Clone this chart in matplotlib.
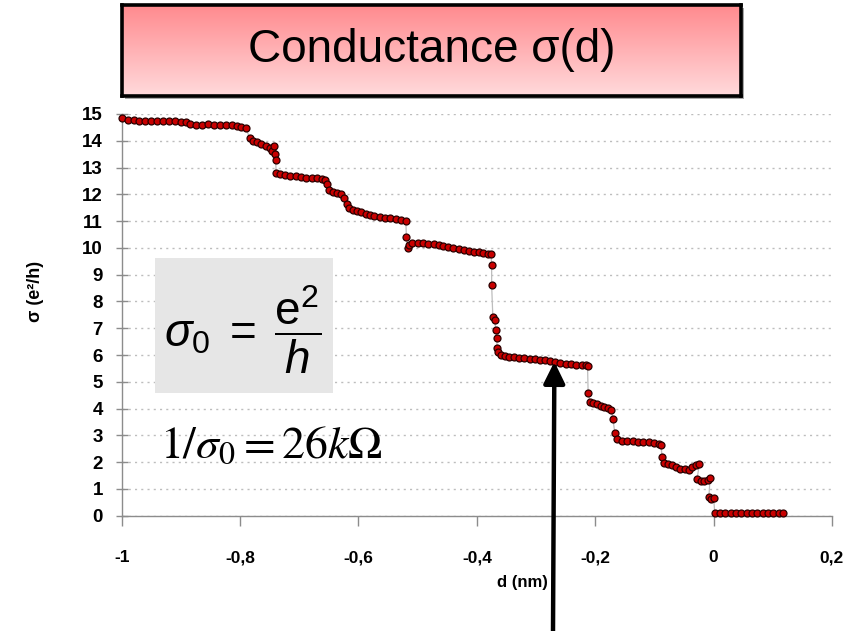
import numpy as np
import matplotlib
matplotlib.use("Agg")
import matplotlib.pyplot as plt
from matplotlib.colors import LinearSegmentedColormap
from matplotlib.patches import Rectangle

plt.rcParams['font.family'] = ['Liberation Sans', 'DejaVu Sans']
plt.rcParams['mathtext.fontset'] = 'custom'
plt.rcParams['mathtext.rm'] = 'Liberation Sans'
plt.rcParams['mathtext.it'] = 'Liberation Sans:italic'
plt.rcParams['mathtext.bf'] = 'Liberation Sans:bold'

# ---------------- data ----------------
d_nm = [
    -1.000, -0.990, -0.980, -0.970, -0.960, -0.950, -0.940, -0.930, -0.920, -0.910, -0.900, -0.892,
    -0.884, -0.874, -0.864, -0.854, -0.844, -0.834, -0.824, -0.814, -0.806, -0.798, -0.790,
    -0.784, -0.778, -0.771, -0.764, -0.757, -0.750, -0.746, -0.742, -0.741, -0.740, -0.739,
    -0.733, -0.724, -0.715, -0.706, -0.697, -0.688, -0.679, -0.670, -0.661, -0.656, -0.653,
    -0.650, -0.643, -0.636, -0.629,
    -0.625, -0.620, -0.616,
    -0.609, -0.602, -0.595, -0.588, -0.581,
    -0.573, -0.564, -0.555, -0.546, -0.537, -0.528, -0.520,
    -0.519, -0.517, -0.514,
    -0.509, -0.500, -0.491, -0.482, -0.473, -0.464, -0.457,
    -0.449, -0.440, -0.431, -0.422, -0.413, -0.405,
    -0.397, -0.389, -0.381, -0.376,
    -0.375, -0.375, -0.373, -0.370, -0.368, -0.366, -0.366, -0.365,
    -0.359, -0.352, -0.345, -0.338,
    -0.329, -0.320, -0.311, -0.302, -0.293, -0.285,
    -0.277, -0.268, -0.259, -0.250, -0.241, -0.232, -0.223, -0.216, -0.213,
    -0.212,
    -0.209, -0.203, -0.197,
    -0.191, -0.185, -0.179, -0.173,
    -0.170, -0.167,
    -0.163, -0.155, -0.146, -0.137, -0.128, -0.119, -0.110, -0.101, -0.093, -0.089,
    -0.087,
    -0.084, -0.077, -0.070,
    -0.063, -0.056, -0.049, -0.042,
    -0.036, -0.030, -0.024,
    -0.028, -0.022, -0.016, -0.010, -0.006,
    -0.008, -0.004, 0.000,
    0.002, 0.011, 0.020, 0.029, 0.038, 0.047, 0.056, 0.065, 0.074, 0.083, 0.092, 0.101, 0.110, 0.117,
]
sigma = [
    14.85, 14.78, 14.76, 14.75, 14.74, 14.74, 14.73, 14.73, 14.72, 14.72, 14.71, 14.70,
    14.62, 14.60, 14.60, 14.61, 14.60, 14.60, 14.59, 14.60, 14.56, 14.52, 14.48,
    14.10, 14.00, 13.95, 13.88, 13.82, 13.74, 13.60, 13.82, 13.50, 13.30, 12.80,
    12.76, 12.72, 12.70, 12.68, 12.64, 12.62, 12.61, 12.60, 12.58, 12.55, 12.40,
    12.15, 12.10, 12.05, 12.00,
    11.85, 11.65, 11.50,
    11.42, 11.38, 11.33, 11.28, 11.22,
    11.18, 11.15, 11.12, 11.10, 11.08, 11.06, 11.02,
    10.40, 10.00, 10.12,
    10.20, 10.18, 10.17, 10.15, 10.13, 10.11, 10.08,
    10.05, 10.00, 9.96, 9.92, 9.89, 9.86,
    9.83, 9.80, 9.78, 9.76,
    9.37, 8.60, 7.43, 7.30, 6.95, 6.64, 6.27, 6.12,
    6.00, 5.97, 5.94, 5.92,
    5.90, 5.88, 5.86, 5.84, 5.82, 5.80,
    5.76, 5.73, 5.70, 5.67, 5.65, 5.64, 5.63, 5.62, 5.60,
    4.60,
    4.25, 4.22, 4.18,
    4.10, 4.05, 4.02, 3.96,
    3.60, 3.10,
    2.85, 2.80, 2.78, 2.78, 2.77, 2.76, 2.75, 2.72, 2.68, 2.65,
    2.20,
    1.98, 1.93, 1.88,
    1.80, 1.76, 1.73, 1.70,
    1.80, 1.88, 1.92,
    1.38, 1.30, 1.28, 1.33, 1.40,
    0.70, 0.62, 0.66,
    0.10, 0.10, 0.10, 0.10, 0.10, 0.10, 0.10, 0.10, 0.10, 0.10, 0.10, 0.10, 0.10, 0.10,
]
x_ticks = [-1.0, -0.8, -0.6, -0.4, -0.2, 0.0, 0.2]
x_tick_labels = ['-1', '-0,8', '-0,6', '-0,4', '-0,2', '0', '0,2']
y_ticks = list(range(0, 16))
arrow_point = (-0.269, 5.75)

title_text = 'Conductance σ(d)'
x_label = 'd (nm)'
y_label = 'σ (e²/h)'

# ---------------- figure ----------------
W, H = 865, 631
fig = plt.figure(figsize=(W / 100, H / 100), dpi=100)
fig.patch.set_facecolor('white')

def fx(px):
    return px / W

def fy(py):
    return 1 - py / H

ax = fig.add_axes([fx(121.7), fy(515.7), (832 - 121.7) / W, (515.7 - 114) / H])
ax.set_xlim(-1.0, 0.2)
ax.set_ylim(0, 15)

ax.plot(d_nm, sigma, '-', color='#BDBDBD', lw=0.9, zorder=2, clip_on=False)
ax.plot(d_nm, sigma, 'o', ms=5.0, mfc='#C80000', mec='#2A0000', mew=0.9,
        zorder=3, clip_on=False, linestyle='none')

ax.set_yticks(y_ticks)
ax.set_yticklabels([str(v) for v in y_ticks])
ax.set_xticks(x_ticks)
ax.set_xticklabels(x_tick_labels)
ax.yaxis.grid(True, linestyle=(0, (1.5, 3)), color='#BDBDBD', lw=1.0)
ax.xaxis.grid(False)
ax.set_axisbelow(True)

for s in ['top', 'right']:
    ax.spines[s].set_visible(False)
for s in ['left', 'bottom']:
    ax.spines[s].set_color('#8C8C8C')
    ax.spines[s].set_linewidth(1.0)

ax.tick_params(axis='y', direction='inout', length=9, width=1, color='#8C8C8C',
               pad=9, labelsize=13.5)
ax.tick_params(axis='x', direction='out', length=7, width=1, color='#8C8C8C',
               pad=18, labelsize=12.5)
for lab in ax.get_xticklabels() + ax.get_yticklabels():
    lab.set_fontweight('bold')

fig.text(fx(522), fy(582), x_label, ha='center', va='center',
         fontsize=12, fontweight='bold')
fig.text(fx(36), fy(291), y_label, ha='center', va='center', rotation=90,
         fontsize=13, fontweight='bold')

# ---------------- title box ----------------
shadow = Rectangle((fx(125), fy(99)), 619 / W, 91 / H, transform=fig.transFigure,
                   facecolor='#A8A8A8', edgecolor='none', zorder=0.5)
fig.patches.append(shadow)
tax = fig.add_axes([fx(122), fy(96), 619 / W, 91 / H])
tax.set_zorder(2)
grad = np.linspace(0, 1, 256).reshape(-1, 1)
cmap = LinearSegmentedColormap.from_list('pinkgrad', ['#FF8A8E', '#FFDADC'])
tax.imshow(grad, aspect='auto', cmap=cmap, extent=[0, 1, 0, 1], origin='upper')
tax.set_xticks([])
tax.set_yticks([])
for s in tax.spines.values():
    s.set_linewidth(2.6)
    s.set_color('black')
tax.text(0.5, 0.5, title_text, ha='center', va='center', fontsize=33,
         transform=tax.transAxes)

# ---------------- formula boxes ----------------
fbox = Rectangle((fx(155), fy(393)), 178 / W, 135 / H, transform=fig.transFigure,
                 facecolor='#E6E6E6', edgecolor='none', zorder=1)
fig.patches.append(fbox)
fig.text(fx(243), fy(330), r'$\sigma_0\;=\;\dfrac{\mathrm{e}^2}{h}$', ha='center',
         va='center', fontsize=33, math_fontfamily='custom', zorder=3)
fig.text(fx(160), fy(446), r'$1/\sigma_0 = 26k\Omega$', ha='left', va='center',
         fontsize=33, math_fontfamily='stix', zorder=3)

# ---------------- arrow ----------------
ax.annotate('', xy=arrow_point, xycoords='data',
            xytext=(fx(553), 0.0), textcoords='figure fraction',
            arrowprops=dict(arrowstyle='-|>,head_length=0.65,head_width=0.32',
                            color='black', lw=3.2, shrinkA=0, shrinkB=0,
                            mutation_scale=20),
            annotation_clip=False, zorder=5)

fig.savefig('out.png', dpi=100)
